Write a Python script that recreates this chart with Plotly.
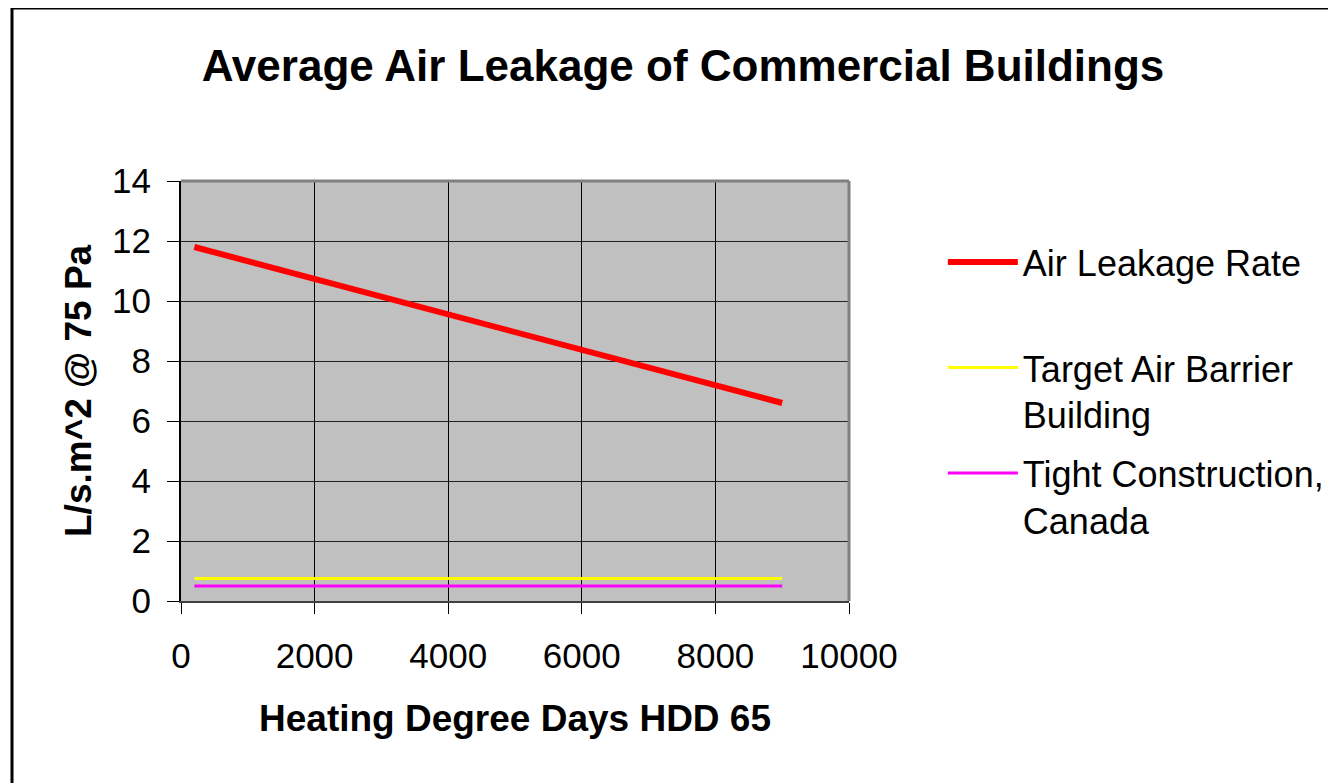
import plotly.graph_objects as go

# Heating degree days (HDD 65) at the ends of each series
hdd = [200, 9000]
air_leakage_rate = [11.8, 6.6]
target_air_barrier = [0.75, 0.75]
tight_construction = [0.5, 0.5]

x_ticks = [0, 2000, 4000, 6000, 8000, 10000]
y_ticks = [0, 2, 4, 6, 8, 10, 12, 14]

font = "Liberation Sans, Arial, sans-serif"

fig = go.Figure()

fig.add_trace(go.Scatter(
    x=hdd, y=air_leakage_rate, mode="lines",
    name="Air Leakage Rate<br> ", legendgroup="a",
    line=dict(color="#FF0000", width=6),
))
fig.add_trace(go.Scatter(
    x=hdd, y=target_air_barrier, mode="lines",
    name="Target Air Barrier<br>Building", legendgroup="b",
    line=dict(color="#FFFF00", width=3),
))
fig.add_trace(go.Scatter(
    x=hdd, y=tight_construction, mode="lines",
    name="Tight Construction,<br>Canada", legendgroup="c",
    line=dict(color="#FF00FF", width=3),
))

# the page body adds an 8px offset, so the figure is 8px smaller
W, H = 1328, 775
fig.update_layout(
    width=W, height=H,
    margin=dict(l=173, r=487, t=173, b=182, autoexpand=False),
    paper_bgcolor="white",
    plot_bgcolor="#C0C0C0",
    font=dict(family=font, color="black", size=34),
    title=dict(
        text="<b>Average Air Leakage of Commercial Buildings</b>",
        x=675 / W, xref="container", xanchor="center",
        y=1 - 58 / H, yref="container", yanchor="middle",
        font=dict(size=44, family=font, color="black"),
    ),
    showlegend=True,
    legend=dict(
        x=1.1405, xanchor="left", y=0.8786, yanchor="top",
        font=dict(size=36, family=font, color="black"),
        valign="top", itemwidth=70, tracegroupgap=9,
        bgcolor="rgba(0,0,0,0)",
    ),
    xaxis=dict(
        range=[0, 10000], tickvals=x_ticks, tickformat="d",
        showgrid=True, gridcolor="black", gridwidth=1,
        zeroline=False,
        showline=True, linecolor="#404040", linewidth=2,
        ticks="outside", ticklen=11, tickcolor="black",
        ticklabelstandoff=12,
        tickfont=dict(size=35),
    ),
    yaxis=dict(
        range=[0, 14], tickvals=y_ticks,
        showgrid=True, gridcolor="#222222", gridwidth=1,
        zeroline=False,
        showline=True, linecolor="black", linewidth=2,
        ticks="outside", ticklen=12, tickcolor="black",
        ticklabelstandoff=9,
        tickfont=dict(size=35),
    ),
    annotations=[
        dict(text="<b>Heating Degree Days HDD 65</b>",
             x=0.5, xref="paper", xanchor="center",
             y=(601 - 718) / 420, yref="paper", yanchor="middle",
             showarrow=False, font=dict(size=37)),
        dict(text="<b>L/s.m^2 @ 75 Pa</b>", textangle=-90,
             x=(78 - 181) / 668, xref="paper", xanchor="center",
             y=(601 - 391) / 420, yref="paper", yanchor="middle",
             showarrow=False, font=dict(size=37)),
    ],
    shapes=[
        # grey frame on the top and right of the plot area
        dict(type="line", xref="paper", yref="paper", x0=0, x1=1, y0=1, y1=1,
             line=dict(color="#808080", width=3)),
        dict(type="line", xref="paper", yref="paper", x0=1, x1=1, y0=0, y1=1,
             line=dict(color="#808080", width=3)),
        # outer chart border
        dict(type="rect", xref="paper", yref="paper",
             x0=(12 - 181) / 668, x1=2.5, y0=-2, y1=(601 - 8) / 420,
             line=dict(color="black", width=3)),
    ],
)

fig.write_html("out.html")
